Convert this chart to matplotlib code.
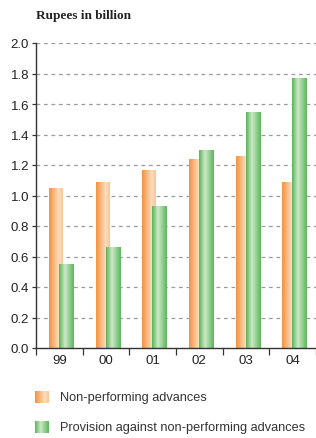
import numpy as np
import matplotlib
matplotlib.use("Agg")
import matplotlib.pyplot as plt
from matplotlib.colors import LinearSegmentedColormap

categories = ["99", "00", "01", "02", "03", "04"]
non_performing = [1.05, 1.09, 1.17, 1.24, 1.26, 1.09]
provision = [0.55, 0.66, 0.93, 1.30, 1.55, 1.77]
y_ticks = [0.0, 0.2, 0.4, 0.6, 0.8, 1.0, 1.2, 1.4, 1.6, 1.8, 2.0]
series_labels = ["Non-performing advances", "Provision against non-performing advances"]
title = "Rupees in billion"

orange_cmap = LinearSegmentedColormap.from_list(
    "org", [(0.0, "#f3923f"), (0.7, "#fddcbd"), (1.0, "#fbc596")])
green_cmap = LinearSegmentedColormap.from_list(
    "grn", [(0.0, "#5ab55a"), (0.4, "#cde8c8"), (1.0, "#5cb75c")])

plt.rcParams['font.family'] = ['Liberation Sans', 'DejaVu Sans']

W, H = 316, 439
fig = plt.figure(figsize=(W / 100, H / 100), dpi=100)
ax = fig.add_axes([36 / W, (H - 349) / H, (W - 36) / W, 305 / H])

grad = np.linspace(0, 1, 64).reshape(1, -1)


def gradient_bars(xs, heights, offset, width, cmap, z):
    bars = ax.bar(xs + offset, heights, width=width, align='edge',
                  color='none', edgecolor='none', zorder=z)
    for b in bars:
        x0, y0 = b.get_x(), b.get_y()
        im = ax.imshow(grad, cmap=cmap, aspect='auto',
                       extent=(x0, x0 + b.get_width(), y0, y0 + b.get_height()),
                       zorder=z, interpolation='bilinear')
        im.set_clip_path(b)
    return bars


xs = np.arange(len(categories)) + 0.5
gradient_bars(xs, non_performing, -0.225, 0.29, orange_cmap, 3)
gradient_bars(xs, provision, -0.01, 0.31, green_cmap, 4)

ax.set_xlim(0, len(categories))
ax.set_ylim(0, 2.0)

ax.set_yticks(y_ticks)
ax.set_yticklabels([f"{v:.1f}" for v in y_ticks], fontsize=9.5, color="#222222")
for v in y_ticks[1:]:
    ax.axhline(v, color="#9a9a9a", lw=0.9, ls=(0, (3, 3)), zorder=1)

ax.set_xticks(np.arange(len(categories) + 1))
ax.set_xticklabels([])
ax.set_xticks(xs, minor=True)
ax.set_xticklabels(categories, minor=True, fontsize=9.5, color="#222222")
ax.tick_params(axis='x', which='major', length=5, width=0.9, color="#333333", direction='out')
ax.tick_params(axis='x', which='minor', length=0, pad=4)
ax.tick_params(axis='y', length=3, width=0.9, color="#333333", pad=2)

for s in ['top', 'right']:
    ax.spines[s].set_visible(False)
for s in ['left', 'bottom']:
    ax.spines[s].set_color("#333333")
    ax.spines[s].set_linewidth(1.0)
ax.spines['bottom'].set_zorder(5)

fig.text(36 / W, 1 - 16 / H, title, family=['Liberation Serif'], fontsize=9.5,
         weight='bold', color="#222222", va='center', ha='left')

# legend
for i, (lab, cmap) in enumerate(zip(series_labels, [orange_cmap, green_cmap])):
    yc = 398 + i * 30
    lax = fig.add_axes([35 / W, 1 - (yc + 6) / H, 14 / W, 12 / H])
    lax.imshow(grad, cmap=cmap, aspect='auto', interpolation='bilinear')
    lax.set_axis_off()
    fig.text(60 / W, 1 - yc / H, lab, fontsize=9.2, color="#333333",
             va='center', ha='left')

fig.savefig("out.png", dpi=100)
